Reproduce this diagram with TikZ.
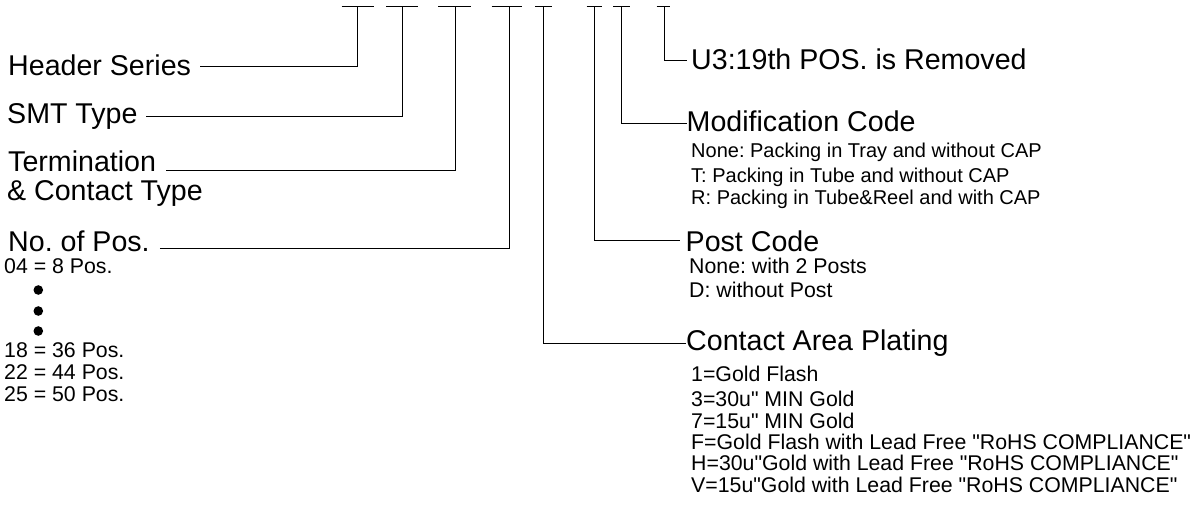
\documentclass[tikz,border=0pt]{standalone}
\usepackage{fontspec}
\setmainfont{Liberation Sans}
\newcommand{\qd}{\textquotedbl}
\begin{document}
\frenchspacing
\begin{tikzpicture}[x=1pt,y=-1pt,
  ln/.style={line width=1pt, black},
  big/.style={inner sep=0pt, font=\fontsize{28.6}{30}\selectfont, anchor=base west},
  small/.style={inner sep=0pt, font=\fontsize{21.3}{22}\selectfont, anchor=base west},
  modt/.style={inner sep=0pt, font=\fontsize{20}{22}\selectfont, anchor=base west},
  dotc/.style={circle, fill=black, inner sep=0pt, minimum size=9.6pt}
]
\useasboundingbox (0,0) rectangle (1204,504);

% top bars
\foreach \n/\a/\b/\c in {1/341.7/357.3/374, 2/386/402.7/418.3, 3/438.3/455/470.7,
  4/491.7/509/521.7, 5/535/543.3/551.7, 6/586.7/594.5/601.7, 7/613.3/621.7/630, 8/656.7/664/670}{
  \draw[ln] (\a,6) -- (\c,6);
  \coordinate (b\n) at (\b,6);
}

% left labels
\node[big] (hs)   at (8,75)    {Header Series};
\node[big] (smt)  at (7,123.3) {SMT Type};
\node[big] (term) at (8,171.7) {Termination};
\node[big] (amp)  at (7,200.7) {\& Contact Type};
\node[big] (nop)  at (8,251.7) {No. of Pos.};

\draw[ln] ([xshift=9pt,yshift=9pt]hs.base east) -| (b1);
\draw[ln] ([xshift=8.4pt,yshift=7.3pt]smt.base east) -| (b2);
\draw[ln] ([xshift=10pt,yshift=1.7pt]term.base east) -| (b3);
\draw[ln] ([xshift=10pt,yshift=3.4pt]nop.base east) -| (b4);

% position list
\node[small] (p04) at (4,273.5) {04 = 8 Pos.};
\node[dotc] (d1) at (38.3,290) {};
\node[dotc] (d2) at (38.3,311) {};
\node[dotc] (d3) at (38.3,331) {};
\node[small] (p18) at (4,357.5) {18 = 36 Pos.};
\node[small] (p22) at (4,379.5) {22 = 44 Pos.};
\node[small] (p25) at (4,401.5) {25 = 50 Pos.};

% right labels
\node[big] (u3) at (691,69.3) {U3:19th POS. is Removed};
\draw[ln] (b8) |- ([xshift=-4.3pt,yshift=8.6pt]u3.base west);

\node[big] (mc) at (686.5,131.7) {Modification Code};
\draw[ln] (b7) |- ([yshift=8.4pt]mc.base west);
\node[modt] (mc1) at (691,157)   {None: Packing in Tray and without CAP};
\node[modt] (mc2) at (691,182.5) {T: Packing in Tube and without CAP};
\node[modt] (mc3) at (691,204)   {R: Packing in Tube\&Reel and with CAP};

\node[big] (pc) at (685.5,251.7) {Post Code};
\draw[ln] (b6) |- ([xshift=-5.5pt,yshift=11.7pt]pc.base west);
\node[small] (pc1) at (689,273.5) {None: with 2 Posts};
\node[small] (pc2) at (689,297.7) {D: without Post};

\node[big] (cap) at (686,350) {Contact Area Plating};
\draw[ln] (b5) |- ([yshift=6.7pt]cap.base west);
\node[small] (c1) at (691,381.7) {1=Gold Flash};
\node[small] (c2) at (691,406)   {3=30u\qd{} MIN Gold};
\node[small] (c3) at (691,428)   {7=15u\qd{} MIN Gold};
\node[small] (c4) at (691,449)   {F=Gold Flash with Lead Free \qd RoHS COMPLIANCE\qd};
\node[small] (c5) at (691,470.7) {H=30u\qd Gold with Lead Free \qd RoHS COMPLIANCE\qd};
\node[small] (c6) at (691,492)   {V=15u\qd Gold with Lead Free \qd RoHS COMPLIANCE\qd};
\end{tikzpicture}
\end{document}
